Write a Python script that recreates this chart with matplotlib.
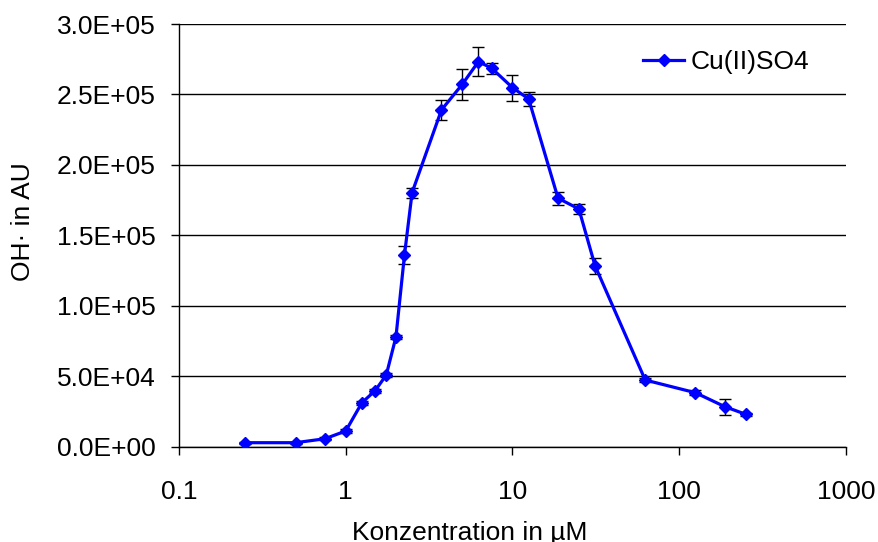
import matplotlib
matplotlib.use("Agg")
import matplotlib.pyplot as plt
from matplotlib.ticker import FixedLocator, FuncFormatter, NullLocator

plt.rcParams['font.family'] = ['Liberation Sans', 'DejaVu Sans']

# Cu(II)SO4 concentration series (µM) and OH· signal (AU) with standard deviations
concentration_uM = [0.25, 0.5, 0.75, 1.0, 1.25, 1.5, 1.75, 2.0, 2.25, 2.5,
                    3.75, 5.0, 6.25, 7.5, 10.0, 12.5, 18.75, 25.0, 31.25,
                    62.5, 125.0, 187.5, 250.0]
oh_signal = [2700, 2700, 5500, 11000, 31100, 39600, 50800, 77800, 136000, 180300,
             239000, 257200, 273300, 268600, 254800, 246800, 176300, 168700, 128400,
             47200, 38200, 28300, 22900]
oh_error = [600, 600, 900, 1200, 1500, 1500, 1500, 1500, 6500, 3500,
            7000, 11200, 10200, 4000, 9200, 4900, 4500, 3700, 5600,
            1200, 1800, 5600, 1200]

x_ticks = [0.1, 1, 10, 100, 1000]
x_tick_labels = ["0.1", "1", "10", "100", "1000"]
y_ticks = [0, 50000, 100000, 150000, 200000, 250000, 300000]

fig = plt.figure(figsize=(8.79, 5.42), dpi=100)
ax = fig.add_axes([179 / 879, 1 - 446.5 / 542, (846 - 179) / 879, (446.5 - 24) / 542])

ax.errorbar(concentration_uM, oh_signal, yerr=oh_error, fmt='none',
            ecolor='black', elinewidth=1.0, capsize=4.5, capthick=1.0, zorder=2)
ax.plot(concentration_uM, oh_signal, color='#0000FF', lw=2.3, marker='D',
        markersize=6.5, markerfacecolor='#0000FF', markeredgecolor='#0000FF',
        label='Cu(II)SO4', zorder=3)

ax.set_xscale('log')
ax.set_xlim(0.1, 1000)
ax.set_ylim(0, 300000)
ax.xaxis.set_major_locator(FixedLocator(x_ticks))
ax.xaxis.set_minor_locator(NullLocator())
ax.set_xticklabels(x_tick_labels)
ax.yaxis.set_major_locator(FixedLocator(y_ticks))
ax.yaxis.set_major_formatter(FuncFormatter(lambda v, pos: "{:.1E}".format(v)))

ax.grid(axis='y', color='black', lw=1.0, zorder=0)
ax.set_axisbelow(True)
for side in ('top', 'right'):
    ax.spines[side].set_visible(False)
for side in ('left', 'bottom'):
    ax.spines[side].set_color('black')
    ax.spines[side].set_linewidth(1.0)

ax.tick_params(axis='both', which='major', direction='out', length=6,
               width=1.0, colors='black', labelsize=19)
ax.tick_params(axis='y', pad=11)
ax.tick_params(axis='x', pad=18)

ax.set_xlabel('Konzentration in µM', fontsize=19)
ax.set_ylabel('OH· in AU', fontsize=19)
ax.xaxis.set_label_coords((470 - 179) / (846 - 179), (446.5 - 521) / (446.5 - 24))
ax.yaxis.set_label_coords((35 - 179) / (846 - 179), (446.5 - 222) / (446.5 - 24))

leg = ax.legend(loc='upper left', bbox_to_anchor=(638 / 879, 1 - 45 / 542),
                bbox_transform=fig.transFigure, frameon=False, fontsize=19,
                handlelength=1.55, handletextpad=0.25, borderaxespad=0,
                borderpad=0.2)

fig.savefig('out.png', dpi=100)
